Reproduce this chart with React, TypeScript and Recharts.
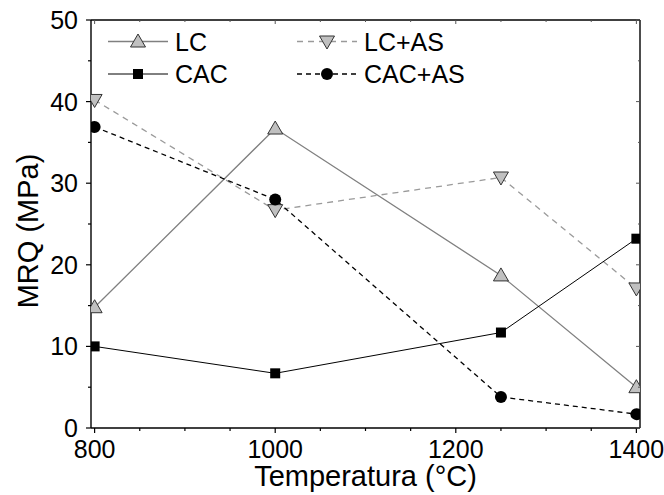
import React from "react";
import { LineChart, Line, XAxis, YAxis, Legend } from "recharts";

// temperature (°C) vs modulus of rupture (MPa)
const temperatures = [800, 1000, 1250, 1400];
const lc = [14.8, 36.7, 18.7, 5.0];
const lcAs = [40.2, 26.7, 30.7, 17.1];
const cac = [10.0, 6.7, 11.7, 23.2];
const cacAs = [36.9, 28.0, 3.8, 1.7];

const xTicks = [800, 850, 900, 950, 1000, 1050, 1100, 1150, 1200, 1250, 1300, 1350, 1400];
const yTicks = [0, 5, 10, 15, 20, 25, 30, 35, 40, 45, 50];

const data = temperatures.map((t, i) => ({
  t,
  lc: lc[i],
  lcAs: lcAs[i],
  cac: cac[i],
  cacAs: cacAs[i],
}));

const FONT = "'Liberation Sans', Arial, Helvetica, sans-serif";
const GRAY_FILL = "#c0c0c0";

type Shape = "up" | "down" | "square" | "circle";

const Marker = ({ shape, cx, cy }: { shape: Shape; cx: number; cy: number }) => {
  if (shape === "up") {
    return (
      <path
        d={`M${cx},${cy - 7.5} L${cx + 7.5},${cy + 5.5} L${cx - 7.5},${cy + 5.5} Z`}
        fill={GRAY_FILL}
        stroke="#333"
        strokeWidth={1}
      />
    );
  }
  if (shape === "down") {
    return (
      <path
        d={`M${cx},${cy + 7.5} L${cx + 7.5},${cy - 5.5} L${cx - 7.5},${cy - 5.5} Z`}
        fill={GRAY_FILL}
        stroke="#333"
        strokeWidth={1}
      />
    );
  }
  if (shape === "square") {
    return <rect x={cx - 5} y={cy - 5} width={10} height={10} fill="#000" />;
  }
  return <circle cx={cx} cy={cy} r={6} fill="#000" />;
};

const series = [
  { key: "lc", name: "LC", shape: "up" as Shape, stroke: "#808080", dash: undefined, width: 1.3 },
  { key: "lcAs", name: "LC+AS", shape: "down" as Shape, stroke: "#9a9a9a", dash: "6 5", width: 1.3 },
  { key: "cac", name: "CAC", shape: "square" as Shape, stroke: "#000", dash: undefined, width: 1 },
  { key: "cacAs", name: "CAC+AS", shape: "circle" as Shape, stroke: "#000", dash: "5 4", width: 1.3 },
];

const XTick = (props: any) => {
  const { x, y, payload } = props;
  const major = payload.value % 200 === 0;
  return (
    <g>
      <line x1={x} x2={x} y1={y} y2={y + (major ? 5 : 3)} stroke="#000" strokeWidth={1.2} />
      {major && (
        <text x={x} y={y + 30} textAnchor="middle" fontSize={25} fontFamily={FONT} fill="#000">
          {payload.value}
        </text>
      )}
    </g>
  );
};

const TopTick = (props: any) => {
  const { x, y, payload } = props;
  const major = payload.value % 200 === 0;
  return <line x1={x} x2={x} y1={y} y2={y + (major ? 4 : 2)} stroke="#555" strokeWidth={1} />;
};

const YTick = (props: any) => {
  const { x, y, payload } = props;
  const major = payload.value % 10 === 0;
  return (
    <g>
      <line x1={x} x2={x - (major ? 5 : 3)} y1={y} y2={y} stroke="#000" strokeWidth={1.2} />
      {major && (
        <text x={x - 13} y={y + 9} textAnchor="end" fontSize={25} fontFamily={FONT} fill="#000">
          {payload.value}
        </text>
      )}
    </g>
  );
};

const RightTick = (props: any) => {
  const { x, y, payload } = props;
  const major = payload.value % 10 === 0;
  return <line x1={x} x2={x - (major ? 4 : 2)} y1={y} y2={y} stroke="#555" strokeWidth={1} />;
};

const XTitle = (props: any) => {
  const { x, y, width } = props.viewBox;
  return (
    <text x={x + width / 2} y={y + 58} textAnchor="middle" fontSize={29} fontFamily={FONT} fill="#000">
      Temperatura (°C)
    </text>
  );
};

const YTitle = (props: any) => {
  const { x, y, height } = props.viewBox;
  const cx = x + 38;
  const cy = y + height / 2 + 7;
  return (
    <text
      x={cx}
      y={cy}
      transform={`rotate(-90, ${cx}, ${cy})`}
      textAnchor="middle"
      fontSize={29}
      fontFamily={FONT}
      fill="#000"
    >
      MRQ (MPa)
    </text>
  );
};

const renderLegend = () => {
  const cols = [108, 297];
  const rows = [41.5, 74];
  return (
    <svg width={664} height={100} style={{ display: "block" }}>
      {series.map((s, i) => {
        const x0 = cols[i % 2];
        const y0 = rows[Math.floor(i / 2)];
        return (
          <g key={s.key}>
            <line
              x1={x0}
              x2={x0 + 60}
              y1={y0}
              y2={y0}
              stroke={s.stroke}
              strokeWidth={s.width}
              strokeDasharray={s.dash}
            />
            <Marker shape={s.shape} cx={x0 + 30} cy={y0} />
            <text x={x0 + 67} y={y0 + 9} fontSize={25} fontFamily={FONT} fill="#000">
              {s.name}
            </text>
          </g>
        );
      })}
    </svg>
  );
};

export default function App() {
  return (
    <div style={{ position: "absolute", left: 0, top: 0, background: "#fff" }}>
      <LineChart width={664} height={495} data={data} margin={{ top: 19, right: 23, bottom: 0, left: 0 }}>
        <XAxis
          dataKey="t"
          type="number"
          domain={[796, 1404]}
          ticks={xTicks}
          interval={0}
          tickSize={0}
          tickMargin={0}
          tickLine={false}
          tick={<XTick />}
          height={67}
          axisLine={{ stroke: "#000", strokeWidth: 1.4 }}
          allowDataOverflow
          label={<XTitle />}
        />
        <XAxis
          xAxisId="top"
          orientation="top"
          dataKey="t"
          type="number"
          domain={[796, 1404]}
          ticks={xTicks}
          interval={0}
          tickSize={0}
          tickMargin={0}
          tickLine={false}
          tick={<TopTick />}
          height={1}
          axisLine={{ stroke: "#000", strokeWidth: 1.4 }}
          allowDataOverflow
        />
        <YAxis
          type="number"
          domain={[0, 50]}
          ticks={yTicks}
          interval={0}
          width={91}
          tickSize={0}
          tickMargin={0}
          tickLine={false}
          tick={<YTick />}
          axisLine={{ stroke: "#000", strokeWidth: 1.4 }}
          allowDataOverflow
          label={<YTitle />}
        />
        <YAxis
          yAxisId="right"
          orientation="right"
          type="number"
          domain={[0, 50]}
          ticks={yTicks}
          interval={0}
          width={1}
          tickSize={0}
          tickMargin={0}
          tickLine={false}
          tick={<RightTick />}
          axisLine={{ stroke: "#000", strokeWidth: 1.4 }}
          allowDataOverflow
        />
        <Legend
          layout="vertical"
          verticalAlign="middle"
          align="center"
          content={renderLegend}
          wrapperStyle={{ left: 0, top: 0, width: 664, height: 100 }}
        />
        {/* invisible series so the mirrored top / right axes get drawn */}
        <Line
          xAxisId="top"
          yAxisId="right"
          dataKey="lc"
          stroke="none"
          dot={false}
          activeDot={false}
          legendType="none"
          isAnimationActive={false}
        />
        {series.map((s) => (
          <Line
            key={s.key}
            dataKey={s.key}
            name={s.name}
            stroke={s.stroke}
            strokeWidth={s.width}
            strokeDasharray={s.dash}
            isAnimationActive={false}
            dot={(p: any) => <Marker key={`${s.key}-${p.index}`} shape={s.shape} cx={p.cx} cy={p.cy} />}
            activeDot={false}
          />
        ))}
      </LineChart>
    </div>
  );
}
